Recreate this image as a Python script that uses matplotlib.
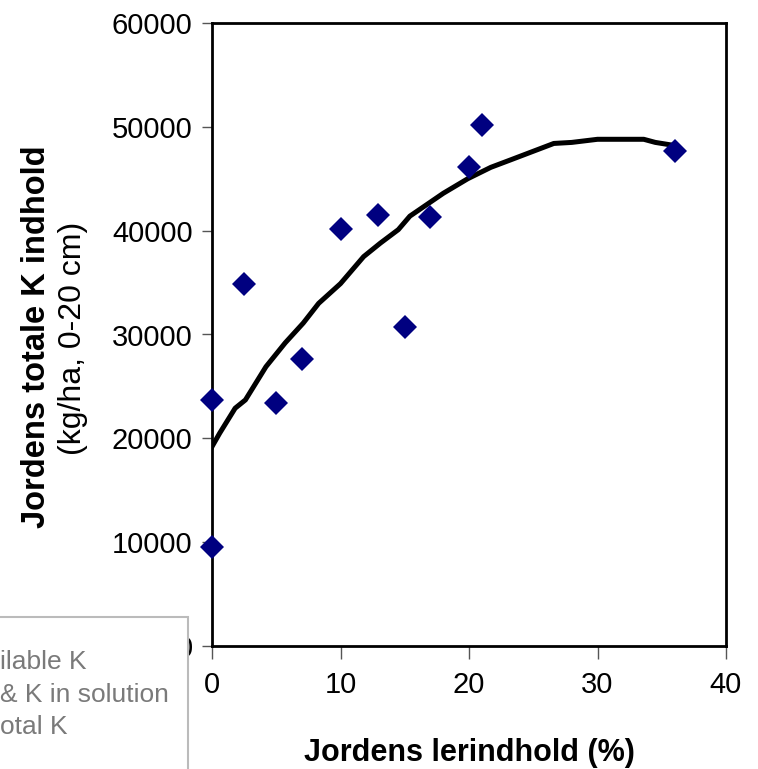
import matplotlib.pyplot as plt
from matplotlib.patches import Rectangle

plt.rcParams['font.family'] = ['Liberation Sans', 'DejaVu Sans']

# Measured points: clay content (%) vs total K (kg/ha, 0-20 cm)
clay = [0, 0, 2.5, 5, 7, 10, 12.9, 15, 17, 20, 21, 36]
total_k = [9500, 23700, 34900, 23400, 27600, 40200, 41500, 30700, 41300, 46100, 50200, 47700]

# Trendline
trend_x = [0, 0.6, 1.8, 2.6, 4.2, 5.7, 7.1, 8.3, 10, 11.8, 13.1, 14.5, 15.4,
           18, 19.9, 21.7, 23.2, 26.6, 28, 30, 33.6, 34.5, 36]
trend_y = [19200, 20500, 22900, 23700, 26900, 29200, 31100, 33000, 34900, 37500,
           38800, 40100, 41400, 43600, 45000, 46100, 46800, 48400, 48500, 48800,
           48800, 48500, 48200]

legend_lines = ['ilable K', '& K in solution', 'otal K']

fig = plt.figure(figsize=(7.58, 7.69), dpi=100)
ax = fig.add_axes([212 / 758, 1 - 646 / 769, (726 - 212) / 758, (646 - 23) / 769])

ax.plot(trend_x, trend_y, color='black', lw=3.6, zorder=2)
ax.plot(clay, total_k, linestyle='none', marker='D', ms=12.5, color='#000080',
        markeredgewidth=0, clip_on=False, zorder=3)

ax.set_xlim(0, 40)
ax.set_ylim(0, 60000)
ax.set_xticks([0, 10, 20, 30, 40])
ax.set_yticks(range(0, 60001, 10000))
ax.tick_params(axis='both', labelsize=21, direction='out', color='#555555', width=1)
ax.tick_params(axis='y', length=7, pad=7)
ax.tick_params(axis='x', length=9, pad=9)
for s in ax.spines.values():
    s.set_linewidth(2)
    s.set_color('black')

ax.set_xlabel('Jordens lerindhold (%)', fontsize=22, fontweight='bold', labelpad=28)
fig.text(37 / 758, 1 - 337 / 769, 'Jordens totale K indhold', rotation=90,
         fontsize=23.5, fontweight='bold', ha='center', va='center')
fig.text(73 / 758, 1 - 338 / 769, '(kg/ha, 0-20 cm)', rotation=90,
         fontsize=23, ha='center', va='center')

# Partly hidden legend box from another chart, lying over the corner
box = Rectangle((-0.02, -0.02), 0.02 + 188 / 758, 0.02 + (769 - 617) / 769,
                transform=fig.transFigure, facecolor='white', edgecolor='#bbbbbb',
                lw=1.5, zorder=10)
fig.patches.append(box)
for i, t in enumerate(legend_lines):
    fig.text(0 / 758, 1 - (662 + 32.5 * i) / 769, t, fontsize=19, color='#7a7a7a',
             ha='left', va='center', zorder=11)

fig.savefig('out.png', dpi=100)
